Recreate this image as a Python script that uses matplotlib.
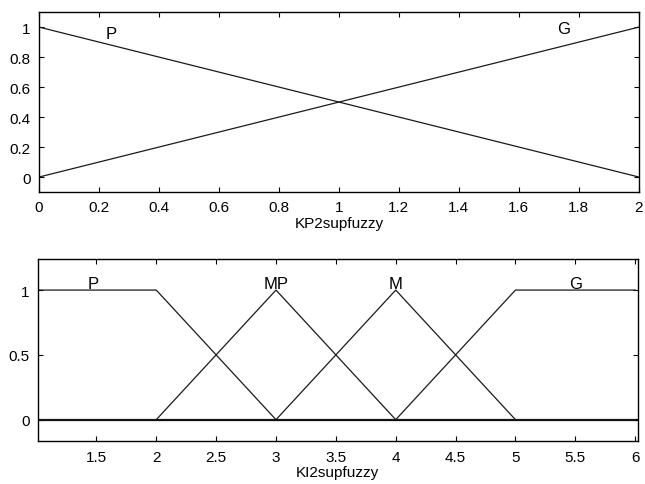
import numpy as np
import matplotlib
matplotlib.use("Agg")
import matplotlib.pyplot as plt

plt.rcParams['font.family'] = ['Liberation Sans', 'DejaVu Sans']
plt.rcParams['font.size'] = 11

# top: KP2supfuzzy membership functions (breakpoints)
kp_x = [0, 2]
kp_P = [1, 0]
kp_G = [0, 1]
kp_names = ['P', 'G']
kp_label_pos = [(0.24, 0.91), (1.75, 0.94)]

# bottom: KI2supfuzzy membership functions (breakpoints)
ki_x = [1, 2, 3, 4, 5, 6]
ki_P = [1, 1, 0, 0, 0, 0]
ki_MP = [0, 0, 1, 0, 0, 0]
ki_M = [0, 0, 0, 1, 0, 0]
ki_G = [0, 0, 0, 0, 1, 1]
ki_names = ['P', 'MP', 'M', 'G']
ki_label_x = [1.47, 3.0, 4.0, 5.5]

fig = plt.figure(figsize=(6.45, 4.85), dpi=100)
ax1 = fig.add_axes([0.0605, 0.602, 0.930, 0.371])
ax2 = fig.add_axes([0.0585, 0.088, 0.930, 0.376])

lc = '#1a1a1a'

# top plot
ax1.plot(kp_x, kp_P, color=lc, lw=0.9)
ax1.plot(kp_x, kp_G, color=lc, lw=0.9)
for name, (tx, ty) in zip(kp_names, kp_label_pos):
    ax1.text(tx, ty, name, ha='center', va='bottom', fontsize=12)
ax1.set_xlim(0, 2)
ax1.set_ylim(-0.1, 1.1)
ax1.set_xticks(np.arange(0, 2.01, 0.2))
ax1.set_xticklabels(['0', '0.2', '0.4', '0.6', '0.8', '1', '1.2', '1.4', '1.6', '1.8', '2'])
ax1.set_yticks([0, 0.2, 0.4, 0.6, 0.8, 1])
ax1.set_yticklabels(['0', '0.2', '0.4', '0.6', '0.8', '1'])
ax1.set_xlabel('KP2supfuzzy', labelpad=1)

# bottom plot
for ys in [ki_P, ki_MP, ki_M, ki_G]:
    ax2.plot(ki_x, ys, color=lc, lw=0.9)
ax2.axhline(0, color='black', lw=1.6, zorder=1)
for name, tx in zip(ki_names, ki_label_x):
    ax2.text(tx, 0.99, name, ha='center', va='bottom', fontsize=12)
ax2.set_xlim(1.01, 6.02)
ax2.set_ylim(-0.167, 1.24)
ax2.set_xticks([1.5, 2, 2.5, 3, 3.5, 4, 4.5, 5, 5.5, 6])
ax2.set_xticklabels(['1.5', '2', '2.5', '3', '3.5', '4', '4.5', '5', '5.5', '6'])
ax2.set_yticks([0, 0.5, 1])
ax2.set_yticklabels(['0', '0.5', '1'])
ax2.set_xlabel('KI2supfuzzy', labelpad=1)

for ax in [ax1, ax2]:
    ax.tick_params(direction='in', length=3.5, width=0.8, top=True, right=True, pad=6)
    for s in ax.spines.values():
        s.set_linewidth(1.0)

fig.savefig('out.png', dpi=100)
